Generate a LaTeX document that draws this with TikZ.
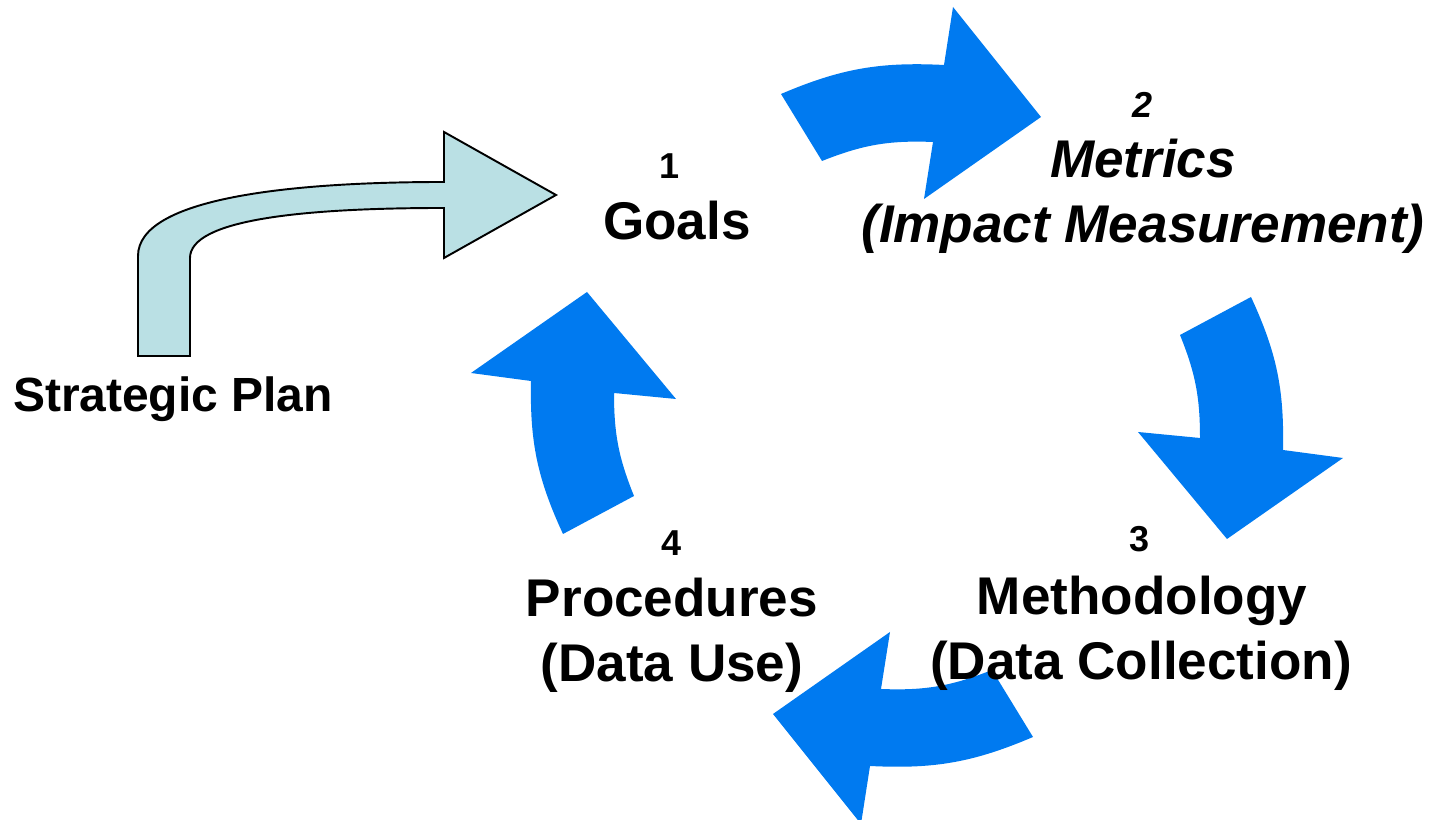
\documentclass[tikz,border=0pt]{standalone}
\usepackage{fontspec}
\setmainfont{Liberation Sans}
\definecolor{cycleblue}{RGB}{0,122,240}
\definecolor{planblue}{RGB}{186,224,228}
\tikzset{
  cyclearrow/.style={fill=cycleblue},
  planarrow/.style={fill=planblue, draw=black, line width=1.1pt},
  numtext/.style={anchor=base, inner sep=0pt, font=\fontsize{20.5}{24}\selectfont\bfseries},
  bigtext/.style={anchor=base, inner sep=0pt, font=\fontsize{30.2}{36}\selectfont\bfseries},
}
\begin{document}
\begin{tikzpicture}[x=0.2mm, y=0.2mm]
\useasboundingbox (0,0) rectangle (1430,820);

% Strategic Plan arrow
\draw[planarrow] (138,464) -- (138,564) .. controls (138,622) and (290,638) .. (444,638)
    -- (444,688) -- (556,625) -- (444,562) -- (444,612)
    .. controls (300,612) and (190,600) .. (190,562) -- (190,464) -- cycle;
\node[bigtext, font=\fontsize{27.3}{33}\selectfont\bfseries] (plan) at (173,408) {Strategic Plan};

% cycle arrows, 1->2 and 2->3, then turned round for 3->4 and 4->1
\foreach \turn in {0,180}
{
\begin{scope}[rotate around={\turn:(907,404.5)}]
    \fill[cyclearrow] (781,726) to[bend left=13] (944,755) -- (953,813) -- (1041,703)
        -- (924,621) -- (933,678) to[bend right=12] (822,659) -- cycle;
    \fill[cyclearrow] (1251,523) to[bend left=13] (1283,370) -- (1343,362) -- (1227,281)
        -- (1138,388) -- (1200,382) to[bend right=11] (1180,485) -- cycle;
\end{scope}
}

% step 1
\node[numtext] (num1) at (670,641) {1};
\node[bigtext] (goals) at (677,580) {Goals};

% step 2
\node[numtext, font=\fontsize{20.5}{24}\selectfont\bfseries\itshape] (num2) at (1143,702) {2};
\node[bigtext, font=\fontsize{30.2}{36}\selectfont\bfseries\itshape] (metrics) at (1143,642) {Metrics};
\node[bigtext, font=\fontsize{30.2}{36}\selectfont\bfseries\itshape] (impact) at (1143,577) {(Impact Measurement)};

% step 3
\node[numtext] (num3) at (1140,268) {3};
\node[bigtext] (method) at (1142,205) {Methodology};
\node[bigtext] (collect) at (1141,140) {(Data Collection)};

% step 4
\node[numtext] (num4) at (672,264) {4};
\node[bigtext] (proc) at (672,203) {Procedures};
\node[bigtext] (datause) at (672,138) {(Data Use)};

\end{tikzpicture}
\end{document}
